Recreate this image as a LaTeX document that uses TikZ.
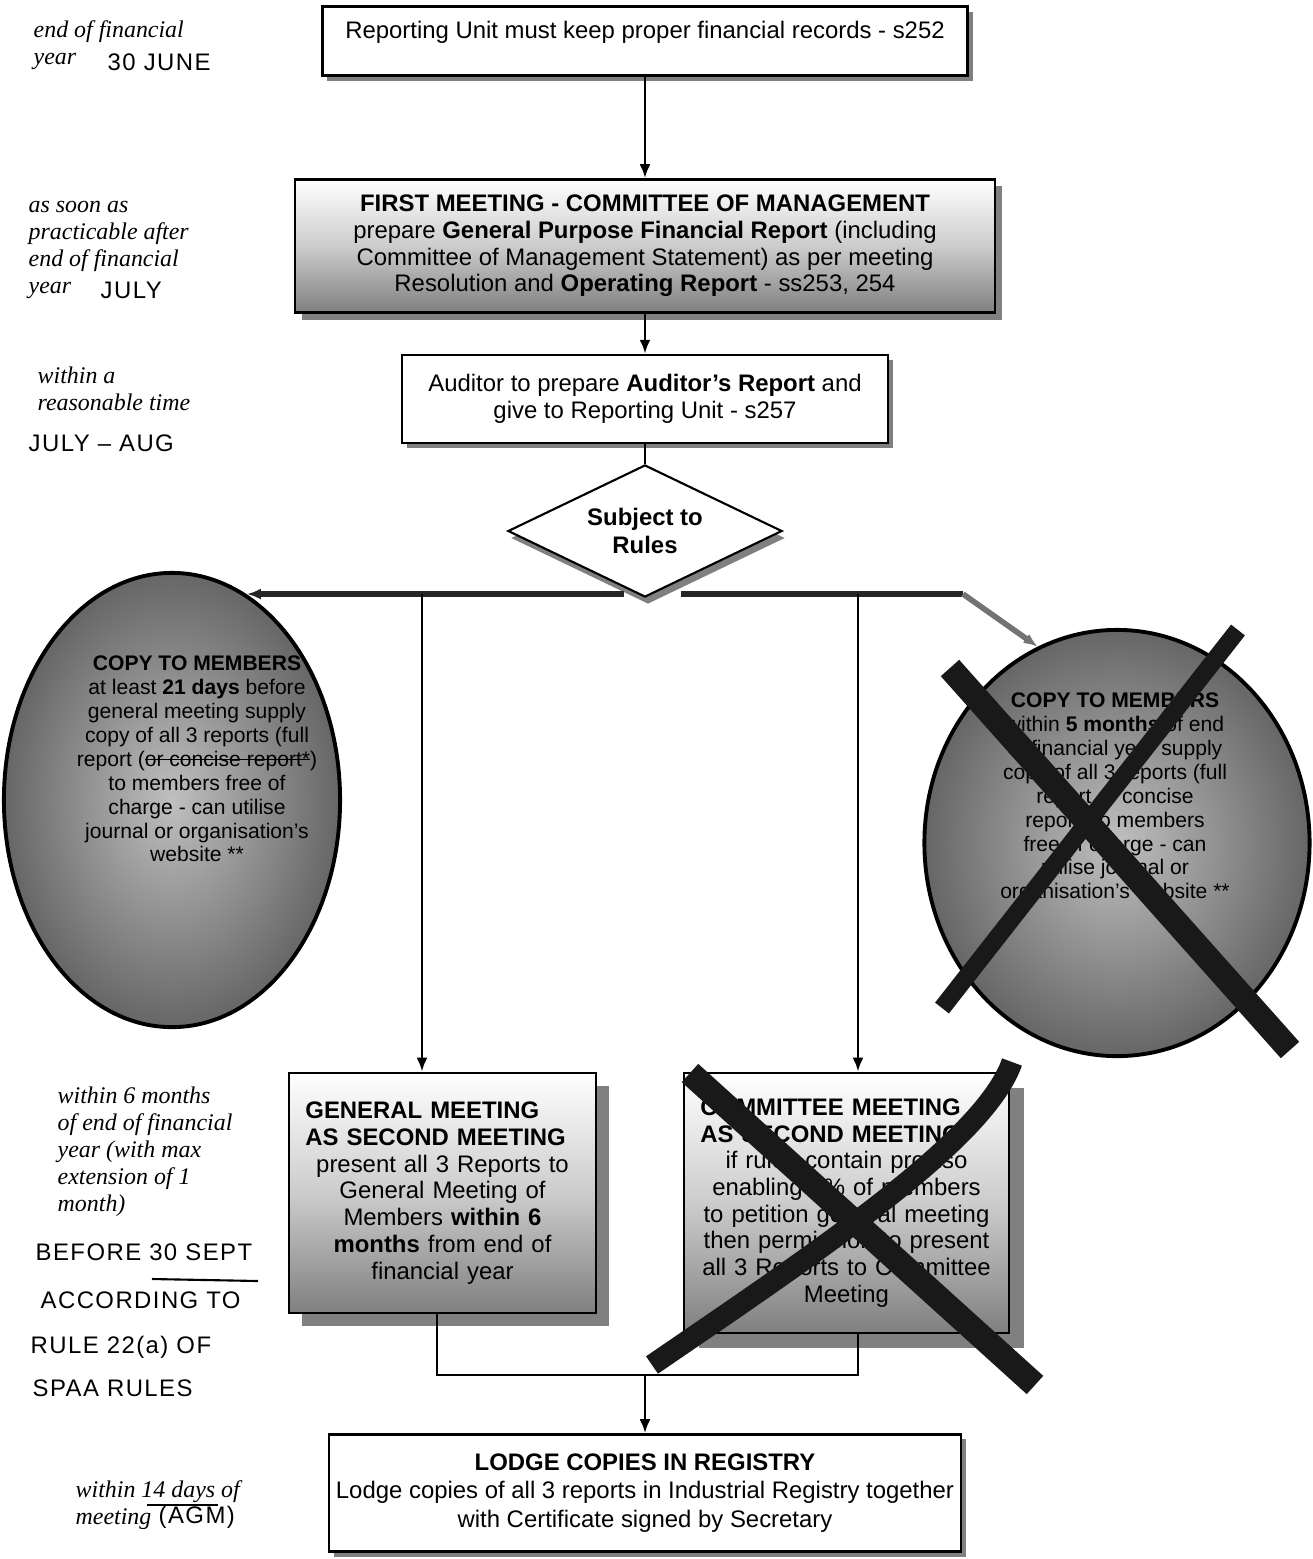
\documentclass[tikz,border=0pt]{standalone}
\usepackage{fontspec}
\setmainfont{Liberation Sans}
\newfontfamily\notefont{Liberation Serif}
\newfontfamily\handfont[LetterSpace=6]{Liberation Sans}
\usetikzlibrary{shapes.geometric,shadows,arrows.meta}
\newlength\strikelen
\newcommand\struck[1]{\settowidth\strikelen{#1}\rlap{\rule[0.28em]{\strikelen}{0.4pt}}#1}

\begin{document}
\begin{tikzpicture}[x=0.01cm,y=-0.01cm,>={Latex[length=1.4mm,width=1.1mm]},
    box/.style={draw,line width=0.7pt,fill=white,inner sep=0pt,font=\fontsize{6.8}{7.6}\selectfont},
    shadowed/.style={drop shadow={shadow xshift=#1,shadow yshift=-#1,fill=black!50,opacity=1}},
    graded/.style={top color=white,bottom color=black!50,middle color=black!20},
    oval/.style={ellipse,draw,line width=1.1pt,inner sep=0pt,inner color=black!25,outer color=black!60},
    ovaltext/.style={align=center,font=\fontsize{6}{6.8}\selectfont},
    note/.style={anchor=north west,align=left,inner sep=0pt,font=\notefont\itshape\fontsize{6.8}{7.7}\selectfont},
    hand/.style={anchor=west,inner sep=0pt,font=\handfont\fontsize{6.8}{7}\selectfont},
    pen/.style={line width=0.6pt},
    flow/.style={line width=0.8pt},
    branch/.style={line width=1.6pt,black!85},
    cross/.style={line width=#1,black!90}]
\useasboundingbox (0,0) rectangle (1313,1559);

% main column
\node[box,shadowed=0.5mm,align=center,minimum width=6.45cm,minimum height=0.69cm,text depth=2.2mm] (recs) at (645,41) {Reporting Unit must keep proper financial records - s252};
\node[box,graded,shadowed=0.7mm,align=center,minimum width=7cm,minimum height=1.33cm] (firstmtg) at (645,246) {\textbf{FIRST MEETING - COMMITTEE OF MANAGEMENT}\\prepare \textbf{General Purpose Financial Report} (including\\Committee of Management Statement) as per meeting\\Resolution and \textbf{Operating Report} - ss253, 254};
\node[box,shadowed=0.5mm,align=center,minimum width=4.86cm,minimum height=0.88cm] (auditor) at (645,399) {Auditor to prepare \textbf{Auditor’s Report} and\\give to Reporting Unit - s257};
\node[diamond,draw,line width=0.6pt,fill=white,inner sep=0pt,aspect=2,minimum width=2.74cm,minimum height=1.32cm,drop shadow={shadow xshift=0.3mm,shadow yshift=-0.7mm,fill=black!50,opacity=1},align=center,font=\bfseries\fontsize{6.8}{7.8}\selectfont] (rules) at (645,531) {Subject to\\Rules};

% copies to members
\node[oval,minimum width=3.36cm,minimum height=4.54cm] (lcopy) at (172,800) {};
\node[ovaltext] (lcopytxt) at (197,759) {\textbf{COPY TO MEMBERS}\\at least \textbf{21 days} before\\general meeting supply\\copy of all 3 reports (full\\report (\struck{or concise report*})\\to members free of\\charge - can utilise\\journal or organisation’s\\website **};
\node[oval,minimum width=3.85cm,minimum height=4.26cm] (rcopy) at (1117,843) {};
\node[ovaltext] (rcopytxt) at (1115,798) {\textbf{COPY TO MEMBERS}\\within \textbf{5 months} of end\\of financial year supply\\copy of all 3 reports (full\\report or concise\\report) to members\\free of charge - can\\utilise journal or\\organisation’s website **};

% second meeting
\node[box,graded,shadowed=1.3mm,minimum width=3.07cm,minimum height=2.4cm,text width=2.74cm] (genmtg) at (442.5,1193) {{\raggedright\bfseries GENERAL MEETING\\AS SECOND MEETING\par}{\centering present all 3 Reports to\\General Meeting of\\Members \textbf{within 6}\\\textbf{months} from end of\\financial year\par}\vspace*{2.6mm}};
\node[box,graded,shadowed=1.5mm,minimum width=3.25cm,minimum height=2.6cm,text width=2.92cm] (commtg) at (846.5,1203) {{\raggedright\bfseries COMMITTEE MEETING\\AS SECOND MEETING\par}{\centering if rules contain proviso\\enabling 5\% of members\\to petition general meeting\\then permission to present\\all 3 Reports to Committee\\Meeting\par}\vspace*{2.4mm}};

\node[box,shadowed=0.5mm,align=center,minimum width=6.32cm,minimum height=1.17cm,font=\fontsize{6.8}{8.1}\selectfont] (lodge) at (645,1493) {\textbf{LODGE COPIES IN REGISTRY}\\Lodge copies of all 3 reports in Industrial Registry together\\with Certificate signed by Secretary};

% connectors
\coordinate (brl) at (624,594);
\coordinate (brr) at (681,594);
\coordinate (bend) at (963,594);
\coordinate (jl) at (422,594);
\coordinate (jr) at (858,594);
\coordinate (gl) at (437,1375);
\coordinate (cr) at (858,1375);
\coordinate (jb) at (645,1375);
\draw[flow,->] (recs.south) -- (firstmtg.north);
\draw[flow,->] (firstmtg.south) -- (auditor.north);
\draw[flow] (auditor.south) -- (rules.north);
\draw[branch,->] (brl) -- (brl -| lcopy.70);
\draw[branch] (brr) -- (bend);
\draw[branch,black!55,->] (bend) -- (rcopy.112);
\draw[flow,->] (jl) -- (jl |- genmtg.north);
\draw[flow,->] (jr) -- (jr |- commtg.north);
\draw[flow] (gl |- genmtg.south) -- (gl) -- (cr) -- (cr |- commtg.south);
\draw[flow,->] (jb) -- (lodge.north);

% crossed out
\draw[cross=7pt] (950,668) -- (1290,1050);
\draw[cross=5pt] (1238,630) -- (942,1008);
\draw[cross=7pt] (690,1073) -- (1035,1385);
\draw[cross=6pt] (1012,1062) .. controls (985,1140) and (820,1250) .. (652,1365);

% timing notes
\node[note] (n1) at (33,18) {\strut end of financial\\year};
\node[hand] (h1) at (107,62) {30 JUNE};
\node[note] (n2) at (28,193) {\strut as soon as\\practicable after\\end of financial\\year};
\node[hand] (h2) at (100,290) {JULY};
\node[note] (n3) at (37,364) {\strut within a\\reasonable time};
\node[hand] (h3) at (28,443) {JULY – AUG};
\node[note] (n4) at (57,1084) {\strut within 6 months\\of end of financial\\year (with max\\extension of 1\\month)};
\node[hand] (h4) at (35,1252) {BEFORE 30 SEPT};
\node[hand] (h5) at (40,1300) {ACCORDING TO};
\node[hand] (h6) at (30,1347) {RULE 22(a) OF};
\node[hand] (h7) at (32,1388) {SPAA RULES};
\node[note] (n5) at (75,1478) {\strut within 14 days of\\meeting};
\node[hand] (h8) at (158,1517) {(AGM)};
\draw[pen] (152,1279) -- (258,1281);
\draw[pen] (147,1505) -- (218,1505);
\end{tikzpicture}
\end{document}
